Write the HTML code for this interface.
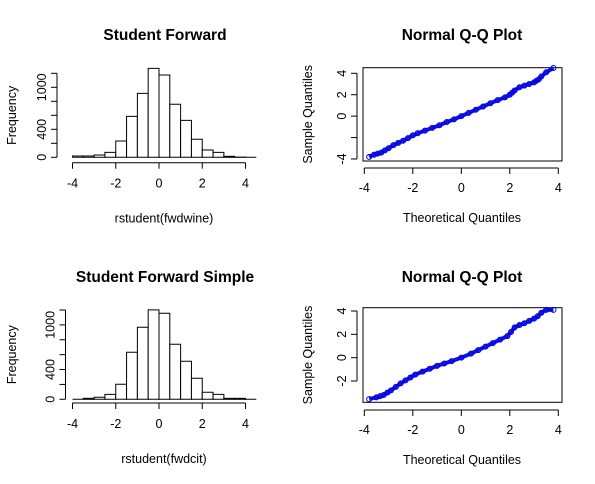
<!DOCTYPE html>
<html><head><meta charset="utf-8"><style>
body{margin:0;background:#fff}
svg{display:block;font-family:"Liberation Sans",sans-serif}
</style></head><body>
<svg id="c" width="595" height="484" xmlns="http://www.w3.org/2000/svg"></svg>
<script>
const binStarts=[-4,-3.5,-3,-2.5,-2,-1.5,-1,-0.5,0,0.5,1,1.5,2,2.5,3,3.5,4];
const hist1Counts=[19,19,33,71,233,585,914,1271,1176,757,528,257,105,71,14,3,0];
const hist2Counts=[0,13,27,67,202,633,969,1202,1157,740,511,283,94,67,13,13,0];
const histXTicks=[-4,-2,0,2,4];
const histYTicks=[0,200,400,600,800,1000,1200];
const histYLabels=["0","","400","","","1000",""];
const qq1Theo=[-3.8,-3.6,-3.45,-3.3,-3.15,-3,-2.8,-2.6,-2.4,-2.2,-2,-1.8,-1.5,-1.2,-0.9,-0.6,-0.3,0,0.3,0.6,0.9,1.2,1.5,1.8,2,2.1,2.2,2.4,2.6,2.8,3,3.1,3.2,3.3,3.5,3.8];
const qq1Samp=[-3.8,-3.6,-3.5,-3.4,-3.2,-3.0,-2.7,-2.5,-2.3,-2.05,-1.8,-1.6,-1.35,-1.1,-0.85,-0.55,-0.3,0,0.3,0.6,0.9,1.2,1.5,1.75,2.0,2.2,2.4,2.7,2.85,3.0,3.15,3.3,3.45,3.7,4.1,4.5];
const qq2Theo=[-3.8,-3.5,-3.35,-3.2,-3.05,-2.9,-2.7,-2.5,-2.3,-2.1,-1.9,-1.6,-1.3,-1,-0.7,-0.4,0,0.4,0.7,1,1.3,1.6,1.9,2.05,2.2,2.4,2.6,2.8,3,3.15,3.3,3.5,3.8];
const qq2Samp=[-3.55,-3.4,-3.3,-3.2,-3.0,-2.8,-2.5,-2.2,-1.95,-1.7,-1.45,-1.2,-0.95,-0.7,-0.5,-0.3,0,0.35,0.65,0.95,1.25,1.55,1.85,2.2,2.6,2.8,2.95,3.15,3.35,3.55,3.85,4.1,4.1];
const qqXTicks=[-4,-2,0,2,4];
const qq1YTicks=[-4,-2,0,2,4];const qq1YLabels=["-4","","0","2","4"];
const qq2YTicks=[-2,0,2,4];const qq2YLabels=["-2","0","2","4"];

const svg=document.getElementById('c');const NS="http://www.w3.org/2000/svg";
function mk(tag,attrs,parent,txt){const e=document.createElementNS(NS,tag);for(const k in attrs)e.setAttribute(k,attrs[k]);if(txt!==undefined)e.textContent=txt;(parent||svg).appendChild(e);return e;}
function lin(d0,d1,r0,r1){return v=>r0+(v-d0)/(d1-d0)*(r1-r0);}

function hist(p){
  const g=mk('g',{});
  
  
  const x=lin(-4,4,72.5,245.5),y=lin(0,1200,p.y0,p.y1200);
  const t=mk('text',{x:165,y:p.titleY,'text-anchor':'middle','font-size':15.5,'font-weight':'bold'},g,p.title);
  
  binStarts.forEach((b,i)=>{const x0=x(b),x1=x(b+0.5),yt=y(p.counts[i]),yb=y(0);
    const r=mk('path',{d:`M${x0},${yb}V${yt}H${x1}V${yb}Z`,fill:'#fff',stroke:'#000','stroke-width':1},g);
    });
  mk('line',{x1:p.ax,x2:p.ax,y1:y(0),y2:y(1200),stroke:'#000'},g);
  histYTicks.forEach((v,i)=>{mk('line',{x1:p.ax-6,x2:p.ax,y1:y(v),y2:y(v),stroke:'#000'},g);
    if(histYLabels[i]){const l=mk('text',{transform:`translate(${p.ax-11},${y(v)}) rotate(-90)`,'text-anchor':'middle','font-size':12.5},g,histYLabels[i]);}});
  mk('line',{x1:x(-4),x2:x(4),y1:p.xAxisY,y2:p.xAxisY,stroke:'#000'},g);
  histXTicks.forEach(v=>{mk('line',{x1:x(v),x2:x(v),y1:p.xAxisY,y2:p.xAxisY+6,stroke:'#000'},g);
    const l=mk('text',{x:x(v),y:p.xAxisY+25,'text-anchor':'middle','font-size':12.5},g,String(v));});
  const xl=mk('text',{x:164,y:p.xAxisY+60,'text-anchor':'middle','font-size':12.5},g,p.xlab);
  
  const yl=mk('text',{transform:`translate(16,${(y(0)+y(1200))/2}) rotate(-90)`,'text-anchor':'middle','font-size':12.5},g,'Frequency');
  
}
hist({name:'histogram-forward',title:'Student Forward',titleY:40,counts:hist1Counts,y0:157.3,y1200:73.3,ax:57,xAxisY:162.7,xlab:'rstudent(fwdwine)'});
hist({name:'histogram-forward-simple',title:'Student Forward Simple',titleY:282,counts:hist2Counts,y0:399.3,y1200:310,ax:65.5,xAxisY:403,xlab:'rstudent(fwdcit)'});

function qq(p){
  const g=mk('g',{});
  
  
  const x=lin(-4,4,364.3,558.3),y=lin(p.d0,p.d1,p.r0,p.r1);
  const t=mk('text',{x:462,y:p.titleY,'text-anchor':'middle','font-size':15.5,'font-weight':'bold'},g,'Normal Q-Q Plot');
  
  mk('rect',{x:363,y:p.top,width:199,height:p.bot-p.top,fill:'none',stroke:'#000'},g);
  const pts=p.tx.map((v,i)=>x(v)+','+y(p.sy[i])).join(' ');
  mk('polyline',{points:pts,fill:'none',stroke:'#1010e8','stroke-width':4,'stroke-linejoin':'round'},g);
  p.tx.forEach((v,i)=>{const c=mk('circle',{cx:x(v),cy:y(p.sy[i]),r:2.5,fill:'none',stroke:'#0000dd','stroke-width':1},g);
    });
  qqXTicks.forEach(v=>{mk('line',{x1:x(v),x2:x(v),y1:p.xAxisY,y2:p.xAxisY+6,stroke:'#000'},g);
    const l=mk('text',{x:x(v),y:p.xAxisY+24,'text-anchor':'middle','font-size':12.5},g,String(v));});
  mk('line',{x1:x(-4),x2:x(4),y1:p.xAxisY,y2:p.xAxisY,stroke:'#000'},g);
  mk('line',{x1:357,x2:357,y1:y(p.yt[0]),y2:y(p.yt[p.yt.length-1]),stroke:'#000'},g);
  p.yt.forEach((v,i)=>{mk('line',{x1:351,x2:357,y1:y(v),y2:y(v),stroke:'#000'},g);
    if(p.yl[i]){const l=mk('text',{transform:`translate(346,${y(v)}) rotate(-90)`,'text-anchor':'middle','font-size':12.5},g,p.yl[i]);}});
  const xl=mk('text',{x:462,y:p.xAxisY+54,'text-anchor':'middle','font-size':12.5},g,'Theoretical Quantiles');
  
  const yl=mk('text',{transform:`translate(312,${(p.top+p.bot)/2}) rotate(-90)`,'text-anchor':'middle','font-size':12.5},g,'Sample Quantiles');
  
}
qq({name:'qq-plot-forward',titleY:40,tx:qq1Theo,sy:qq1Samp,d0:-4,d1:4,r0:159,r1:73.3,top:67.7,bot:161,xAxisY:168,yt:qq1YTicks,yl:qq1YLabels});
qq({name:'qq-plot-forward-simple',titleY:282,tx:qq2Theo,sy:qq2Samp,d0:-2,d1:4,r0:381,r1:311,top:307.7,bot:402.3,xAxisY:410,yt:qq2YTicks,yl:qq2YLabels});
</script>
</body></html>
